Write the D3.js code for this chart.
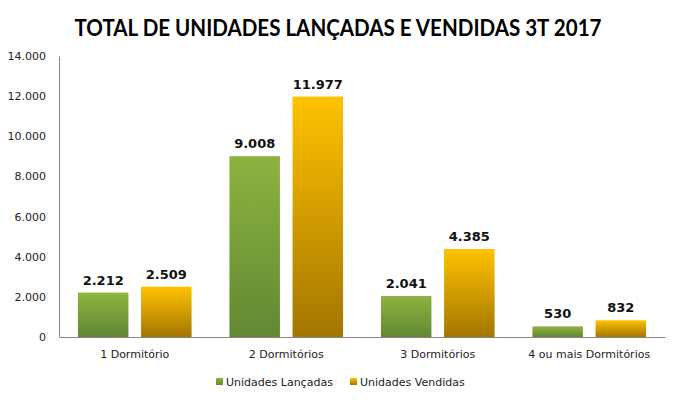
<!DOCTYPE html>
<html><head><meta charset="utf-8">
<script src="https://cdn.jsdelivr.net/npm/d3@7"></script>
<style>body{margin:0;background:#fff}svg{display:block}</style>
</head><body>
<svg id="c" width="675" height="403"></svg>
<script>
const categories = ["1 Dormitório","2 Dormitórios","3 Dormitórios","4 ou mais Dormitórios"];
const seriesNames = ["Unidades Lançadas","Unidades Vendidas"];
const lancadas = [2212, 9008, 2041, 530];
const vendidas = [2509, 11977, 4385, 832];
const yTicks = [0,2000,4000,6000,8000,10000,12000,14000];
const title = "TOTAL DE UNIDADES LANÇADAS E VENDIDAS 3T 2017";

const svg = d3.select("#c");
const m = {l:59, r:665, t:56, b:337};
const fmt = v => d3.format(",")(v).replace(/,/g,".");

const defs = svg.append("defs");
const grads = [["g0","#8db340","#628834"],["g1","#ffc200","#a37600"]];
grads.forEach(([id,a,b])=>{
  const g = defs.append("linearGradient").attr("id",id).attr("x1",0).attr("y1",0).attr("x2",0).attr("y2",1);
  g.append("stop").attr("offset","0%").attr("stop-color",a);
  g.append("stop").attr("offset","100%").attr("stop-color",b);
});

svg.append("text").attr("x",338).attr("y",36).attr("text-anchor","middle")
  .attr("font-family","Lato, 'Open Sans', sans-serif").attr("font-weight","bold")
  .attr("font-size",23).attr("textLength",527).attr("lengthAdjust","spacingAndGlyphs")
  .attr("fill","#000").text(title);

const y = d3.scaleLinear().domain([0,14000]).range([m.b,m.t]);
const x0 = d3.scaleBand().domain(categories).range([m.l,m.r]).paddingInner(0.25).paddingOuter(0.125);
const x1 = d3.scaleBand().domain([0,1]).range([0,x0.bandwidth()]).paddingInner(0.2);

// y axis
const ya = svg.append("g").attr("transform",`translate(${m.l},0)`)
  .call(d3.axisLeft(y).tickValues(yTicks).tickFormat(fmt).tickSize(0).tickPadding(13));
ya.select(".domain").attr("stroke","#888");
ya.selectAll("text").attr("font-family","'DejaVu Sans', Verdana, sans-serif").attr("font-size",11).attr("fill","#222");

// bars
const series = [lancadas, vendidas];
const cat = svg.append("g");
categories.forEach((c,i)=>{
  series.forEach((s,j)=>{
    const v = s[i];
    const bx = x0(c)+x1(j);
    cat.append("rect").attr("x",bx).attr("y",y(v)).attr("width",x1.bandwidth())
      .attr("height",y(0)-y(v)).attr("fill",`url(#g${j})`);
    cat.append("text").attr("x",bx+x1.bandwidth()/2).attr("y",y(v)-8).attr("text-anchor","middle")
      .attr("font-family","'DejaVu Sans', Verdana, sans-serif").attr("font-weight","bold")
      .attr("font-size",13).attr("fill","#111").text(fmt(v));
  });
});

// x axis
const xa = svg.append("g").attr("transform",`translate(0,${m.b})`)
  .call(d3.axisBottom(x0).tickSize(0).tickPadding(13).tickSizeOuter(0));
xa.select(".domain").attr("stroke","#888");
xa.selectAll("text").attr("font-family","'DejaVu Sans', Verdana, sans-serif").attr("font-size",11).attr("fill","#222");

// legend
const leg = svg.append("g");
const lx = [216, 350];
seriesNames.forEach((n,j)=>{
  leg.append("rect").attr("x",lx[j]).attr("y",378).attr("width",7).attr("height",7).attr("fill",`url(#g${j})`);
  leg.append("text").attr("x",lx[j]+10).attr("y",386).attr("font-family","'DejaVu Sans', Verdana, sans-serif")
    .attr("font-size",11).attr("fill","#222").text(n);
});
</script>
</body></html>
